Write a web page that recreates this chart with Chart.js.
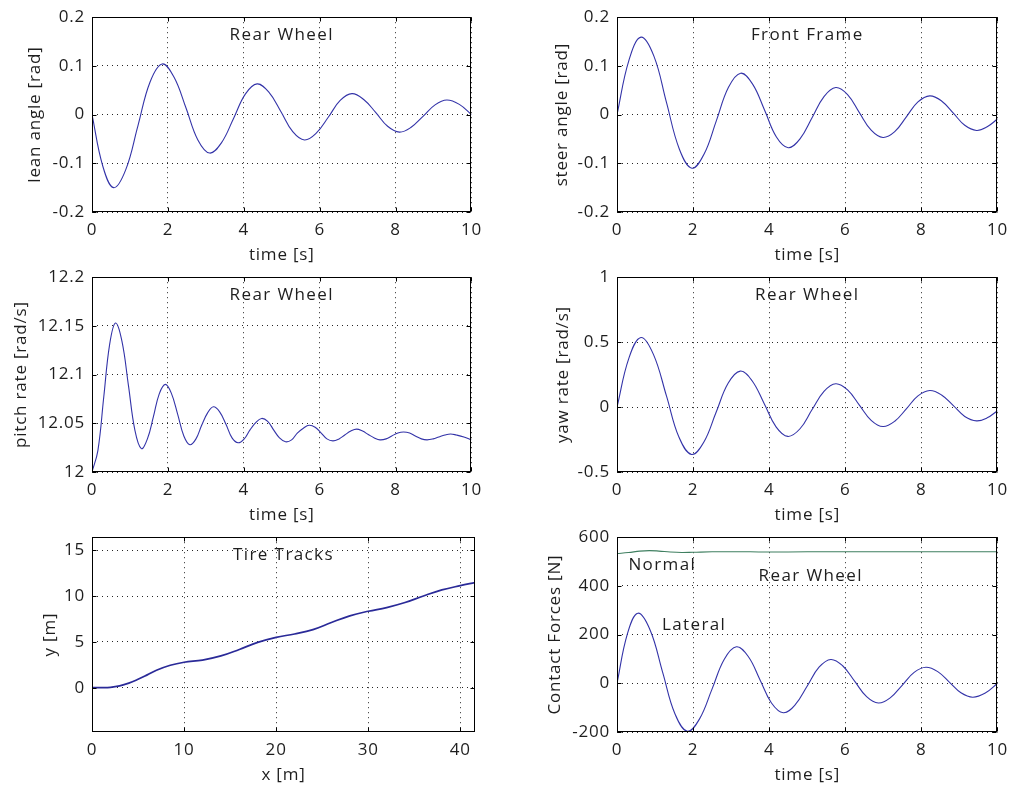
<!DOCTYPE html>
<html>
<head>
<meta charset="utf-8">
<script src="https://cdn.jsdelivr.net/npm/chart.js@4.4.1/dist/chart.umd.min.js"></script>
<style>
  body { margin: 0; background: #fff; width: 1016px; height: 787px; overflow: hidden; position: relative; }
  .box { position: absolute; }
  canvas { display: block; }
</style>
</head>
<body>
<div class="box" style="left:0;top:0"><canvas id="leanChart" width="490" height="268"></canvas></div>
<div class="box" style="left:510px;top:0"><canvas id="steerChart" width="506" height="268"></canvas></div>
<div class="box" style="left:0;top:260px"><canvas id="pitchChart" width="490" height="268"></canvas></div>
<div class="box" style="left:510px;top:260px"><canvas id="yawChart" width="506" height="268"></canvas></div>
<div class="box" style="left:0;top:520px"><canvas id="trackChart" width="490" height="268"></canvas></div>
<div class="box" style="left:510px;top:520px"><canvas id="forceChart" width="506" height="268"></canvas></div>
<script>
// values
const timeTicks = [0, 2, 4, 6, 8, 10];

const leanT = [0, 0.285, 0.57, 0.89, 1.21, 1.53, 1.85, 2.16, 2.48, 2.79, 3.10, 3.41, 3.73, 4.04, 4.35, 4.66, 4.98, 5.29, 5.60, 5.91, 6.23, 6.54, 6.85, 7.16, 7.48, 7.79, 8.10, 8.41, 8.73, 9.04, 9.35, 9.68, 10];
const leanV = [0, -0.106, -0.150, -0.113, -0.023, 0.067, 0.104, 0.077, 0.013, -0.052, -0.079, -0.058, -0.008, 0.042, 0.063, 0.046, 0.006, -0.035, -0.052, -0.038, -0.005, 0.029, 0.043, 0.031, 0.004, -0.024, -0.036, -0.026, -0.003, 0.020, 0.030, 0.021, 0];
const leanTicks = [-0.2, -0.1, 0, 0.1, 0.2];

const steerT = [0, 0.315, 0.63, 0.97, 1.30, 1.64, 1.97, 2.29, 2.61, 2.93, 3.25, 3.56, 3.88, 4.19, 4.50, 4.81, 5.13, 5.44, 5.75, 6.06, 6.37, 6.68, 6.99, 7.30, 7.61, 7.91, 8.22, 8.53, 8.84, 9.14, 9.45, 9.73, 10];
const steerV = [0, 0.112, 0.159, 0.120, 0.025, -0.071, -0.110, -0.081, -0.013, 0.056, 0.085, 0.063, 0.009, -0.046, -0.068, -0.050, -0.006, 0.037, 0.0555, 0.041, 0.004, -0.032, -0.047, -0.035, -0.004, 0.026, 0.0385, 0.028, 0.003, -0.022, -0.0325, -0.025, -0.009];
const steerTicks = [-0.2, -0.1, 0, 0.1, 0.2];

const pitchT = [0, 0.155, 0.31, 0.465, 0.62, 0.79, 0.96, 1.13, 1.30, 1.46, 1.62, 1.77, 1.93, 2.09, 2.26, 2.42, 2.58, 2.74, 2.89, 3.05, 3.20, 3.36, 3.53, 3.69, 3.85, 4.01, 4.16, 4.32, 4.47, 4.63, 4.79, 4.94, 5.10, 5.26, 5.41, 5.57, 5.72, 5.88, 6.04, 6.19, 6.35, 6.51, 6.66, 6.82, 6.97, 7.13, 7.28, 7.44, 7.59, 7.75, 7.90, 8.06, 8.21, 8.37, 8.52, 8.68, 8.83, 8.99, 9.14, 9.30, 9.45, 9.60, 9.80, 10];
const pitchV = [12.000, 12.022, 12.077, 12.131, 12.153, 12.134, 12.089, 12.043, 12.024, 12.034, 12.057, 12.080, 12.090, 12.081, 12.059, 12.037, 12.028, 12.034, 12.048, 12.061, 12.067, 12.062, 12.049, 12.035, 12.030, 12.034, 12.043, 12.051, 12.055, 12.052, 12.043, 12.035, 12.031, 12.033, 12.040, 12.045, 12.048, 12.046, 12.040, 12.034, 12.032, 12.034, 12.038, 12.042, 12.044, 12.042, 12.0385, 12.035, 12.033, 12.034, 12.037, 12.040, 12.041, 12.040, 12.037, 12.034, 12.033, 12.034, 12.036, 12.038, 12.039, 12.038, 12.036, 12.033];
const pitchTicks = [12, 12.05, 12.1, 12.15, 12.2];

const yawT = [0, 0.315, 0.63, 0.96, 1.30, 1.63, 1.96, 2.28, 2.60, 2.92, 3.24, 3.55, 3.87, 4.18, 4.49, 4.81, 5.12, 5.44, 5.75, 6.06, 6.37, 6.68, 6.99, 7.30, 7.61, 7.91, 8.22, 8.53, 8.84, 9.14, 9.45, 9.73, 10];
const yawV = [0, 0.379, 0.536, 0.404, 0.086, -0.233, -0.365, -0.271, -0.044, 0.183, 0.277, 0.203, 0.026, -0.152, -0.226, -0.167, -0.023, 0.121, 0.180, 0.132, 0.015, -0.102, -0.150, -0.109, -0.012, 0.086, 0.127, 0.093, 0.011, -0.072, -0.106, -0.083, -0.028];
const yawTicks = [-0.5, 0, 0.5, 1];

const trackX = [0, 1, 2, 3, 4, 5, 6, 7, 8.5, 10, 12, 14, 16, 18, 20, 22, 24, 26, 28, 30, 32, 34, 36, 38, 40, 41.6];
const trackY = [0, 0.005, 0.04, 0.2, 0.5, 0.92, 1.4, 1.9, 2.45, 2.78, 3.02, 3.47, 4.18, 4.95, 5.5, 5.87, 6.35, 7.12, 7.85, 8.35, 8.75, 9.3, 10.02, 10.68, 11.15, 11.48];
const trackXTicks = [0, 10, 20, 30, 40];
const trackYTicks = [0, 5, 10, 15];

const lateralT = [0, 0.275, 0.55, 0.875, 1.2, 1.525, 1.85, 2.17, 2.50, 2.82, 3.14, 3.45, 3.76, 4.06, 4.37, 4.68, 5.00, 5.31, 5.62, 5.93, 6.25, 6.56, 6.87, 7.18, 7.50, 7.81, 8.12, 8.43, 8.74, 9.04, 9.35, 9.68, 10];
const lateralV = [0, 204, 288, 217, 45, -126, -197, -146, -23, 99, 150, 110, 14, -81, -121, -89, -11, 66, 98, 72, 8, -55, -81, -60, -7, 45, 66, 48, 4, -39, -57, -40, 0];
const normalT = [0, 0.3, 0.6, 0.85, 1.1, 1.4, 1.7, 2.0, 2.5, 3, 3.5, 4, 5, 6, 7, 8, 9, 10];
const normalV = [533, 537, 543, 545, 543, 539, 537, 538, 540, 540, 540, 539, 540, 540, 540, 540, 540, 540];
const forceTicks = [-200, 0, 200, 400, 600];

const FONT = '"Open Sans", sans-serif';
const SIZE = 17;
const TEXT = '#1e1e1e';
const BLUE = '#3333a8';

// wider letter spacing, like the pdf rendering of the original
const spacing = {
  id: 'spacing',
  beforeUpdate(chart) { chart.ctx.letterSpacing = '0.8px'; },
  beforeDraw(chart) { chart.ctx.letterSpacing = '0.8px'; }
};

// box round the axes, inward ticks on all sides, text labels
const frame = {
  id: 'frame',
  afterDraw(chart) {
    const { ctx, chartArea: a, scales: { x, y } } = chart;
    const notes = chart.config.options.notes || [];
    ctx.save();
    ctx.strokeStyle = '#000';
    ctx.lineWidth = 1;
    const l = Math.round(a.left) + 0.5, r = Math.round(a.right) - 0.5;
    const t = Math.round(a.top) + 0.5, b = Math.round(a.bottom) - 0.5;
    ctx.strokeRect(l, t, r - l, b - t);
    ctx.beginPath();
    x.ticks.forEach(tk => {
      const px = Math.round(x.getPixelForValue(tk.value)) + 0.5;
      ctx.moveTo(px, t); ctx.lineTo(px, t + 4);
      ctx.moveTo(px, b); ctx.lineTo(px, b - 4);
    });
    y.ticks.forEach(tk => {
      const py = Math.round(y.getPixelForValue(tk.value)) + 0.5;
      ctx.moveTo(l, py); ctx.lineTo(l + 4, py);
      ctx.moveTo(r, py); ctx.lineTo(r - 4, py);
    });
    ctx.stroke();
    ctx.fillStyle = TEXT;
    ctx.font = SIZE + 'px ' + FONT;
    ctx.letterSpacing = '1.4px';
    ctx.textBaseline = 'middle';
    notes.forEach(n => {
      if (n.top !== undefined) {
        ctx.textAlign = 'center';
        ctx.fillText(n.text, (a.left + a.right) / 2, a.top + n.top);
      } else {
        ctx.textAlign = 'left';
        ctx.fillText(n.text, x.getPixelForValue(n.x), y.getPixelForValue(n.y));
      }
    });
    ctx.restore();
  }
};

function axis(cfg) {
  return {
    type: 'linear',
    min: cfg.min,
    max: cfg.max,
    afterBuildTicks: s => { s.ticks = cfg.ticks.map(v => ({ value: v })); },
    afterFit: s => { if (cfg.width) s.width = cfg.width; else s.height = cfg.height; },
    ticks: { padding: cfg.padding, color: TEXT, font: { family: FONT, size: SIZE }, callback: v => String(v) },
    grid: { color: 'rgba(0,0,0,0.85)', drawTicks: false, lineWidth: 1 },
    border: { display: false, dash: [1, 4] },
    title: { display: true, text: cfg.title, color: TEXT, font: { family: FONT, size: SIZE }, padding: cfg.titlePad }
  };
}

function makeChart(id, cfg) {
  const ctx = document.getElementById(id).getContext('2d');
  new Chart(ctx, {
    type: 'line',
    data: {
      datasets: cfg.series.map(s => ({
        data: s.x.map((v, i) => ({ x: v, y: s.y[i] })),
        borderColor: s.color,
        borderWidth: s.width || 1.1,
        pointRadius: 0,
        fill: false,
        tension: 0.4
      }))
    },
    options: {
      responsive: false,
      animation: false,
      events: [],
      layout: { padding: { top: 15, right: 15, left: 0, bottom: 0 } },
      plugins: { legend: { display: false }, tooltip: { enabled: false } },
      notes: cfg.notes,
      scales: {
        x: axis({ min: cfg.xMin, max: cfg.xMax, ticks: cfg.xTicks, height: 56, padding: 8,
                  title: cfg.xTitle, titlePad: { top: 0, bottom: 3 } }),
        y: axis({ min: cfg.yMin, max: cfg.yMax, ticks: cfg.yTicks, width: cfg.yWidth, padding: 7,
                  title: cfg.yTitle, titlePad: { top: cfg.yTitlePad, bottom: 0 } })
      }
    },
    plugins: [spacing, frame]
  });
}

makeChart('leanChart', {
  series: [{ x: leanT, y: leanV, color: BLUE }],
  xMin: 0, xMax: 10, xTicks: timeTicks, xTitle: 'time [s]',
  yMin: -0.2, yMax: 0.2, yTicks: leanTicks, yTitle: 'lean angle [rad]',
  yWidth: 92, yTitlePad: 25,
  notes: [{ text: 'Rear Wheel', top: 18 }]
});

makeChart('steerChart', {
  series: [{ x: steerT, y: steerV, color: BLUE }],
  xMin: 0, xMax: 10, xTicks: timeTicks, xTitle: 'time [s]',
  yMin: -0.2, yMax: 0.2, yTicks: steerTicks, yTitle: 'steer angle [rad]',
  yWidth: 107, yTitlePad: 42,
  notes: [{ text: 'Front Frame', top: 18 }]
});

makeChart('pitchChart', {
  series: [{ x: pitchT, y: pitchV, color: BLUE }],
  xMin: 0, xMax: 10, xTicks: timeTicks, xTitle: 'time [s]',
  yMin: 12, yMax: 12.2, yTicks: pitchTicks, yTitle: 'pitch rate [rad/s]',
  yWidth: 92, yTitlePad: 11,
  notes: [{ text: 'Rear Wheel', top: 18 }]
});

makeChart('yawChart', {
  series: [{ x: yawT, y: yawV, color: BLUE }],
  xMin: 0, xMax: 10, xTicks: timeTicks, xTitle: 'time [s]',
  yMin: -0.5, yMax: 1, yTicks: yawTicks, yTitle: 'yaw rate [rad/s]',
  yWidth: 107, yTitlePad: 43,
  notes: [{ text: 'Rear Wheel', top: 18 }]
});

makeChart('trackChart', {
  series: [{ x: trackX, y: trackY, color: '#2a2a98', width: 1.7 }],
  xMin: 0, xMax: 41.6, xTicks: trackXTicks, xTitle: 'x [m]',
  yMin: -4.84, yMax: 16.44, yTicks: trackYTicks, yTitle: 'y [m]',
  yWidth: 92, yTitlePad: 40,
  notes: [{ text: 'Tire Tracks', top: 18 }]
});

makeChart('forceChart', {
  series: [
    { x: normalT, y: normalV, color: '#3f7f60' },
    { x: lateralT, y: lateralV, color: BLUE }
  ],
  xMin: 0, xMax: 10, xTicks: timeTicks, xTitle: 'time [s]',
  yMin: -200, yMax: 600, yTicks: forceTicks, yTitle: 'Contact Forces [N]',
  yWidth: 107, yTitlePad: 35,
  notes: [
    { text: 'Normal', x: 0.3, y: 486 },
    { text: 'Rear Wheel', x: 3.72, y: 441 },
    { text: 'Lateral', x: 1.18, y: 238 }
  ]
});
</script>
</body>
</html>
